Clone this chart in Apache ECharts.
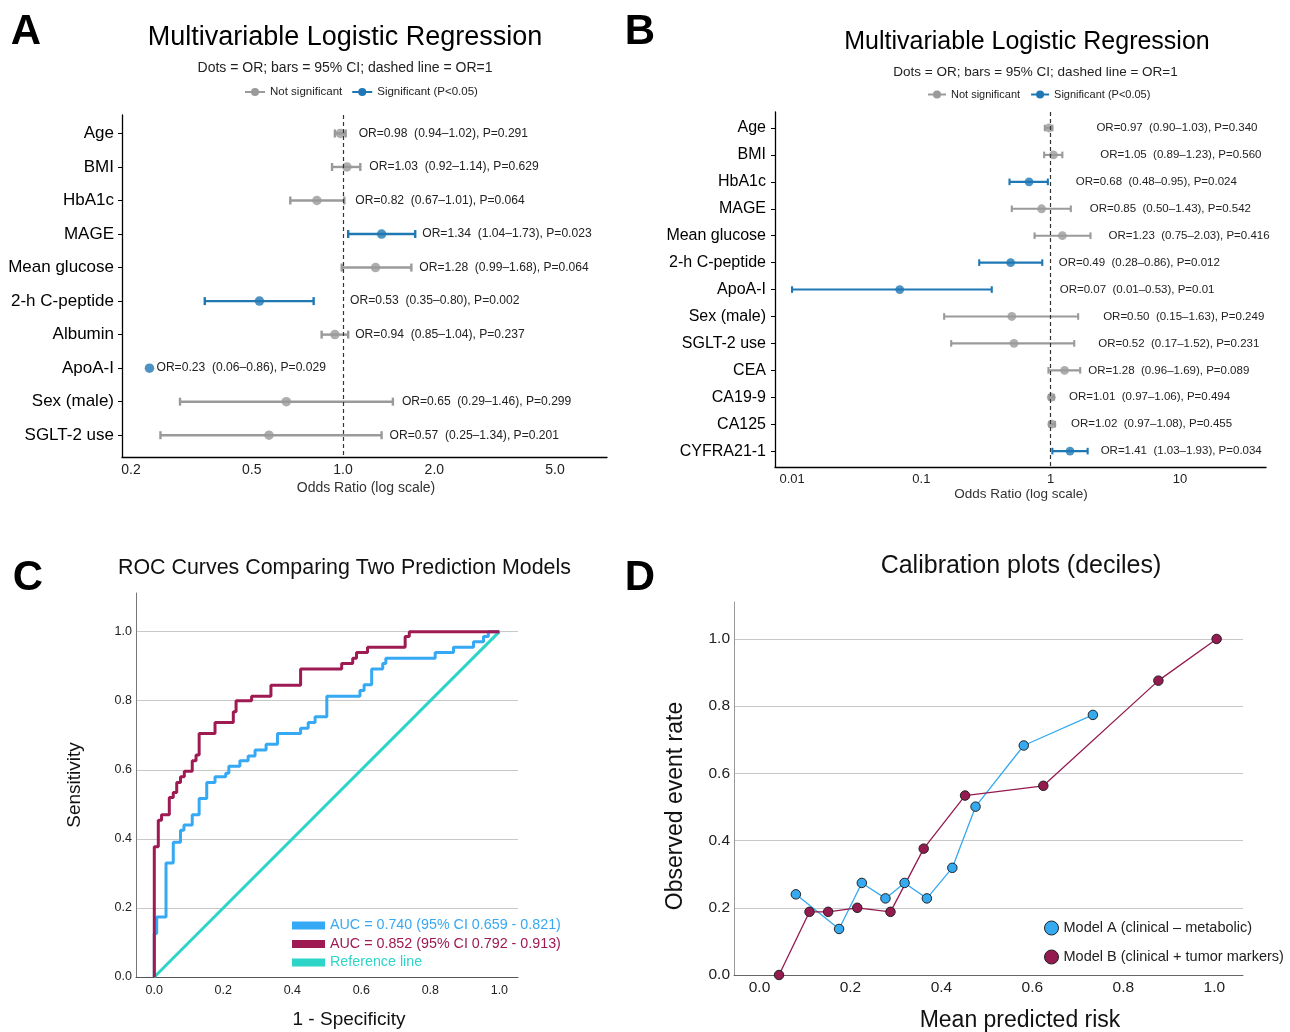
<!DOCTYPE html>
<html><head><meta charset="utf-8">
<script src="https://cdn.jsdelivr.net/npm/echarts@6/dist/echarts.min.js"></script>
<style>html,body{margin:0;padding:0;background:#fff}#c{width:1290px;height:1032px}</style>
</head><body><div id="c"></div>
<script>
const FONT = "'Liberation Sans', Arial, Helvetica, sans-serif";

// ---------- Panel A : forest plot ----------
const catsA = ['Age','BMI','HbA1c','MAGE','Mean glucose','2-h C-peptide','Albumin','ApoA-I','Sex (male)','SGLT-2 use'];
const orA = [0.98,1.03,0.82,1.34,1.28,0.53,0.94,0.23,0.65,0.57];
const loA = [0.94,0.92,0.67,1.04,0.99,0.35,0.85,null,0.29,0.25];
const hiA = [1.02,1.14,1.01,1.73,1.68,0.80,1.04,null,1.46,1.34];
const pA  = [0.291,0.629,0.064,0.023,0.064,0.002,0.237,0.029,0.299,0.201];
const annotA = [
 'OR=0.98  (0.94–1.02), P=0.291','OR=1.03  (0.92–1.14), P=0.629','OR=0.82  (0.67–1.01), P=0.064',
 'OR=1.34  (1.04–1.73), P=0.023','OR=1.28  (0.99–1.68), P=0.064','OR=0.53  (0.35–0.80), P=0.002',
 'OR=0.94  (0.85–1.04), P=0.237','OR=0.23  (0.06–0.86), P=0.029','OR=0.65  (0.29–1.46), P=0.299',
 'OR=0.57  (0.25–1.34), P=0.201'];
const tickA = [0.2,0.5,1,2,5];
const tickLabelA = ['0.2','0.5','1.0','2.0','5.0'];

// ---------- Panel B : forest plot ----------
const catsB = ['Age','BMI','HbA1c','MAGE','Mean glucose','2-h C-peptide','ApoA-I','Sex (male)','SGLT-2 use','CEA','CA19-9','CA125','CYFRA21-1'];
const orB = [0.97,1.05,0.68,0.85,1.23,0.49,0.068,0.50,0.52,1.28,1.01,1.02,1.41];
const loB = [0.90,0.89,0.48,0.50,0.75,0.28,0.01,0.15,0.17,0.96,0.97,0.97,1.03];
const hiB = [1.03,1.23,0.95,1.43,2.03,0.86,0.35,1.63,1.52,1.69,1.06,1.08,1.93];
const pB  = [0.340,0.560,0.024,0.542,0.416,0.012,0.01,0.249,0.231,0.089,0.494,0.455,0.034];
const annotB = [
 'OR=0.97  (0.90–1.03), P=0.340','OR=1.05  (0.89–1.23), P=0.560','OR=0.68  (0.48–0.95), P=0.024',
 'OR=0.85  (0.50–1.43), P=0.542','OR=1.23  (0.75–2.03), P=0.416','OR=0.49  (0.28–0.86), P=0.012',
 'OR=0.07  (0.01–0.53), P=0.01','OR=0.50  (0.15–1.63), P=0.249','OR=0.52  (0.17–1.52), P=0.231',
 'OR=1.28  (0.96–1.69), P=0.089','OR=1.01  (0.97–1.06), P=0.494','OR=1.02  (0.97–1.08), P=0.455',
 'OR=1.41  (1.03–1.93), P=0.034'];
const tickB = [0.01,0.1,1,10];
const tickLabelB = ['0.01','0.1','1','10'];

// ---------- Panel C : ROC ----------
const fprA = [0,0,0.007,0.034,0.055,0.076,0.086,0.110,0.130,0.152,0.176,0.207,0.216,0.248,0.272,0.292,0.324,0.357,0.424,0.446,0.466,0.500,0.596,0.608,0.630,0.662,0.671,0.814,0.867,0.925,0.954,0.968,1.0];
const tprA = [0,0.126,0.174,0.33,0.39,0.425,0.44,0.47,0.517,0.563,0.58,0.59,0.61,0.626,0.64,0.657,0.674,0.705,0.72,0.737,0.754,0.813,0.83,0.846,0.892,0.908,0.923,0.94,0.955,0.971,0.986,1.0,1.0];
const fprB = [0,0,0.0116,0.021,0.0435,0.055,0.065,0.076,0.087,0.110,0.121,0.130,0.176,0.229,0.237,0.282,0.338,0.424,0.543,0.575,0.586,0.618,0.727,0.739,1.0];
const tprB = [0,0.377,0.454,0.47,0.52,0.534,0.563,0.58,0.596,0.626,0.643,0.705,0.737,0.768,0.80,0.813,0.845,0.892,0.908,0.923,0.94,0.955,0.986,1.0,1.0];
const refX = [0,1];
const refY = [0,1];
const rocNames = ['AUC = 0.740 (95% CI 0.659 - 0.821)','AUC = 0.852 (95% CI 0.792 - 0.913)','Reference line'];

// ---------- Panel D : calibration ----------
const predA = [0.080,0.175,0.225,0.277,0.319,0.368,0.424,0.475,0.581,0.733];
const obsA  = [0.240,0.137,0.274,0.228,0.274,0.228,0.319,0.501,0.683,0.774];
const predB = [0.043,0.110,0.151,0.215,0.288,0.361,0.452,0.624,0.877,1.005];
const obsB  = [0.0,0.188,0.188,0.200,0.188,0.376,0.534,0.563,0.876,1.0];
const calNames = ['Model A (clinical – metabolic)','Model B (clinical + tumor markers)'];
const unitTicks = [0,0.2,0.4,0.6,0.8,1.0];

// ---------- styling / layout ----------
const GREY = '#9a9a9a', BLUE = '#1f78b4';
const C_A = '#36a9f4', C_B = '#9e1a52', C_REF = '#2dd4c8';
const CAL_A = '#36aaf0', CAL_B = '#951a4f';
const labelNudgeA = [13,9,11,7,8,7,7,7,9,8];
const labelNudgeB = [44,38,25,19,18,8,9,25,24,8,15,16,13];
const lg = Math.log10;

function nearestLabel(ticks, labels, v) {
  let best = 0, d = Infinity;
  ticks.forEach((t, i) => { const dd = Math.abs(lg(t) - v); if (dd < d) { d = dd; best = i; } });
  return labels[best];
}

function forestRender(cfg) {
  return function (params, api) {
    const i = params.dataIndex;
    const col = cfg.p[i] < 0.05 ? BLUE : GREY;
    const ctr = api.coord([lg(cfg.or[i]), i]);
    const one = api.coord([0, i]);
    const kids = [];
    let anchor = ctr[0];
    if (cfg.lo[i] != null && cfg.hi[i] != null) {
      const a = api.coord([lg(cfg.lo[i]), i]);
      const b = api.coord([lg(cfg.hi[i]), i]);
      const y = a[1];
      kids.push({type:'line', shape:{x1:a[0], y1:y, x2:b[0], y2:y}, style:{stroke:col, lineWidth:cfg.lw}});
      kids.push({type:'line', shape:{x1:a[0], y1:y-cfg.cap, x2:a[0], y2:y+cfg.cap}, style:{stroke:col, lineWidth:cfg.lw}});
      kids.push({type:'line', shape:{x1:b[0], y1:y-cfg.cap, x2:b[0], y2:y+cfg.cap}, style:{stroke:col, lineWidth:cfg.lw}});
      anchor = Math.max(b[0], one[0]);
    }
    kids.push({type:'text', x: anchor + cfg.nudge[i], y: ctr[1],
      style:{text: cfg.annot[i], fill:'#222', font: cfg.font + 'px ' + FONT,
             align:'left', verticalAlign:'middle', textAlign:'left', textVerticalAlign:'middle'}});
    return {type:'group', children:kids};
  };
}

function txt(t, x, y, size, opts) {
  opts = opts || {};
  return {type:'text', x:x, y:y, rotation: opts.rot || 0, silent:true, z:10,
    style:{text:t, fill: opts.color || '#111', font: (opts.weight || 'normal') + ' ' + size + 'px ' + FONT,
           align:'center', verticalAlign:'middle', textAlign:'center', textVerticalAlign:'middle'}};
}

const chart = echarts.init(document.getElementById('c'), null, {renderer:'canvas'});

const axisLbl = (extra) => Object.assign({fontFamily:FONT, color:'#222'}, extra);

const option = {
  animation:false,
  backgroundColor:'#fff',
  textStyle:{fontFamily:FONT},
  grid:[
    {left:122, top:115, width:485, height:342, outerBoundsMode:'none', containLabel:false},
    {left:775, top:112, width:491, height:355, outerBoundsMode:'none', containLabel:false},
    {left:136, top:593, width:382, height:384, outerBoundsMode:'none', containLabel:false},
    {left:734, top:602, width:509, height:373, outerBoundsMode:'none', containLabel:false}
  ],
  xAxis:[
    {gridIndex:0, type:'value', min:lg(0.1867), max:lg(7.42),
     axisLine:{onZero:false, lineStyle:{color:'#000', width:1.3}}, axisTick:{show:false}, splitLine:{show:false},
     axisLabel:axisLbl({customValues: tickA.map(lg), formatter: v => nearestLabel(tickA, tickLabelA, v), fontSize:14, margin:6})},
    {gridIndex:1, type:'value', min:lg(0.00738), max:lg(46.2),
     axisLine:{onZero:false, lineStyle:{color:'#000', width:1.3}}, axisTick:{show:false}, splitLine:{show:false},
     axisLabel:axisLbl({customValues: tickB.map(lg), formatter: v => nearestLabel(tickB, tickLabelB, v), fontSize:13, margin:6})},
    {gridIndex:2, type:'value', min:-0.053, max:1.054,
     axisLine:{onZero:false, lineStyle:{color:'#555', width:1}}, axisTick:{show:false, customValues:unitTicks}, splitLine:{show:false},
     axisLabel:axisLbl({customValues: unitTicks, formatter: v => v.toFixed(1), fontSize:12.5, margin:7})},
    {gridIndex:3, type:'value', min:-0.056, max:1.063,
     axisLine:{onZero:false, lineStyle:{color:'#666', width:1}}, axisTick:{show:false, customValues:unitTicks}, splitLine:{show:false},
     axisLabel:axisLbl({customValues: unitTicks, formatter: v => v.toFixed(1), fontSize:15.5, margin:5})}
  ],
  yAxis:[
    {gridIndex:0, type:'value', inverse:true, min:-0.55, max:9.65,
     axisLine:{onZero:false, lineStyle:{color:'#000', width:1.3}},
     axisTick:{show:true, customValues: catsA.map((c,i)=>i), length:4, lineStyle:{color:'#000'}},
     axisLabel:axisLbl({customValues: catsA.map((c,i)=>i), formatter: v => catsA[Math.round(v)], fontSize:17, color:'#000', margin:8}),
     splitLine:{show:false}},
    {gridIndex:1, type:'value', inverse:true, min:-0.594, max:12.59,
     axisLine:{onZero:false, lineStyle:{color:'#000', width:1.3}},
     axisTick:{show:true, customValues: catsB.map((c,i)=>i), length:4, lineStyle:{color:'#000'}},
     axisLabel:axisLbl({customValues: catsB.map((c,i)=>i), formatter: v => catsB[Math.round(v)], fontSize:16, color:'#000', margin:9}),
     splitLine:{show:false}},
    {gridIndex:2, type:'value', min:0, max:1.112,
     axisLine:{onZero:false, lineStyle:{color:'#777', width:1}},
     axisTick:{show:false, customValues:unitTicks},
     axisLabel:axisLbl({customValues: unitTicks, formatter: v => v.toFixed(1), fontSize:12.5, margin:4}),
     splitLine:{show:true, lineStyle:{color:'#c8c8c8', width:1}}},
    {gridIndex:3, type:'value', min:0, max:1.110,
     axisLine:{onZero:false, lineStyle:{color:'#999', width:1}},
     axisTick:{show:false, customValues:unitTicks},
     axisLabel:axisLbl({customValues: unitTicks, formatter: v => v.toFixed(1), fontSize:15.5, margin:4}),
     splitLine:{show:true, lineStyle:{color:'#c8c8c8', width:1}}}
  ],
  legend:[
    {left:244, top:86, padding:0, itemWidth:20, itemHeight:10, itemGap:9,
     data:['Not significant','Significant (P<0.05)'], textStyle:{fontSize:11.5, color:'#222', fontFamily:FONT}},
    {left:927, top:89, padding:0, itemWidth:18, itemHeight:10, itemGap:10,
     data:['Not significant','Significant (P<0.05)'], textStyle:{fontSize:11, color:'#222', fontFamily:FONT}},
    {left:292, top:918, padding:0, orient:'vertical', icon:'rect', itemWidth:33, itemHeight:8, itemGap:3.5,
     data:[{name:rocNames[0], textStyle:{color:C_A}},{name:rocNames[1], textStyle:{color:C_B}},{name:rocNames[2], textStyle:{color:C_REF}}],
     textStyle:{fontSize:14.3, lineHeight:15, fontFamily:FONT}},
    {left:1044, top:920.5, padding:0, orient:'vertical', icon:'circle', itemWidth:14, itemHeight:14, itemGap:14,
     itemStyle:{borderColor:'#222', borderWidth:1},
     data:calNames, textStyle:{fontSize:14.5, lineHeight:15, color:'#222', fontFamily:FONT}}
  ],
  series:[
    // legend key series for forest plots
    {name:'Not significant', type:'line', xAxisIndex:0, yAxisIndex:0, data:[], symbol:'circle',
     itemStyle:{color:GREY}, lineStyle:{color:GREY, width:2}},
    {name:'Significant (P<0.05)', type:'line', xAxisIndex:0, yAxisIndex:0, data:[], symbol:'circle',
     itemStyle:{color:BLUE}, lineStyle:{color:BLUE, width:2}},
    // Panel A
    {type:'custom', xAxisIndex:0, yAxisIndex:0, z:2, silent:true,
     data: orA.map((v,i)=>[lg(v), i]), encode:{x:0, y:1},
     renderItem: forestRender({or:orA, lo:loA, hi:hiA, p:pA, annot:annotA, nudge:labelNudgeA, lw:2.4, cap:4, font:12.1})},
    {type:'scatter', xAxisIndex:0, yAxisIndex:0, z:3, silent:true, symbol:'circle', symbolSize:9.5,
     data: orA.map((v,i)=>({value:[lg(v), i], itemStyle:{color: pA[i] < 0.05 ? BLUE : GREY}})),
     markLine:{silent:true, symbol:['none','none'], label:{show:false}, animation:false,
       lineStyle:{color:'#333', type:[4,3], width:1.2}, data:[{xAxis:0}]}},
    // Panel B
    {type:'custom', xAxisIndex:1, yAxisIndex:1, z:2, silent:true,
     data: orB.map((v,i)=>[lg(v), i]), encode:{x:0, y:1},
     renderItem: forestRender({or:orB, lo:loB, hi:hiB, p:pB, annot:annotB, nudge:labelNudgeB, lw:2.1, cap:3.3, font:11.5})},
    {type:'scatter', xAxisIndex:1, yAxisIndex:1, z:3, silent:true, symbol:'circle', symbolSize:8.8,
     data: orB.map((v,i)=>({value:[lg(v), i], itemStyle:{color: pB[i] < 0.05 ? BLUE : GREY}})),
     markLine:{silent:true, symbol:['none','none'], label:{show:false}, animation:false,
       lineStyle:{color:'#333', type:[4,3], width:1.2}, data:[{xAxis:0}]}},
    // Panel C
    {name:rocNames[2], type:'line', xAxisIndex:2, yAxisIndex:2, showSymbol:false, silent:true,
     data: refX.map((x,i)=>[x, refY[i]]), itemStyle:{color:C_REF}, lineStyle:{color:C_REF, width:3}},
    {name:rocNames[0], type:'line', xAxisIndex:2, yAxisIndex:2, showSymbol:false, silent:true, step:'end',
     data: fprA.map((x,i)=>[x, tprA[i]]), itemStyle:{color:C_A}, lineStyle:{color:C_A, width:3}},
    {name:rocNames[1], type:'line', xAxisIndex:2, yAxisIndex:2, showSymbol:false, silent:true, step:'end',
     data: fprB.map((x,i)=>[x, tprB[i]]), itemStyle:{color:C_B}, lineStyle:{color:C_B, width:3}},
    // Panel D
    {name:calNames[0], type:'line', xAxisIndex:3, yAxisIndex:3, silent:true, symbol:'circle', symbolSize:9.5,
     data: predA.map((x,i)=>[x, obsA[i]]), itemStyle:{color:CAL_A, borderColor:'#222', borderWidth:1},
     lineStyle:{color:CAL_A, width:1.3}},
    {name:calNames[1], type:'line', xAxisIndex:3, yAxisIndex:3, silent:true, symbol:'circle', symbolSize:9.5,
     data: predB.map((x,i)=>[x, obsB[i]]), itemStyle:{color:CAL_B, borderColor:'#222', borderWidth:1},
     lineStyle:{color:CAL_B, width:1.3}}
  ],
  graphic:[
    txt('A', 26, 32, 42, {weight:'bold', color:'#000'}),
    txt('B', 640, 32, 42, {weight:'bold', color:'#000'}),
    txt('C', 28, 578, 42, {weight:'bold', color:'#000'}),
    txt('D', 640, 578, 42, {weight:'bold', color:'#000'}),
    txt('Multivariable Logistic Regression', 345, 37.5, 27, {color:'#000'}),
    txt('Dots = OR; bars = 95% CI; dashed line = OR=1', 345, 68, 14, {color:'#222'}),
    txt('Odds Ratio (log scale)', 366, 488, 14, {color:'#333'}),
    txt('Multivariable Logistic Regression', 1027, 42, 25, {color:'#000'}),
    txt('Dots = OR; bars = 95% CI; dashed line = OR=1', 1035.5, 72, 13.5, {color:'#222'}),
    txt('Odds Ratio (log scale)', 1021, 494, 13.5, {color:'#333'}),
    txt('ROC Curves Comparing Two Prediction Models', 344.5, 568, 21.4, {color:'#111'}),
    txt('Sensitivity', 75, 785, 19, {rot:Math.PI/2, color:'#111'}),
    txt('1 - Specificity', 349, 1020, 19, {color:'#111'}),
    txt('Calibration plots (deciles)', 1021, 566, 25, {color:'#111'}),
    txt('Observed event rate', 676, 806, 23, {rot:Math.PI/2, color:'#111'}),
    txt('Mean predicted risk', 1020, 1021, 23, {color:'#111'})
  ]
};
chart.setOption(option);
</script>
</body></html>
